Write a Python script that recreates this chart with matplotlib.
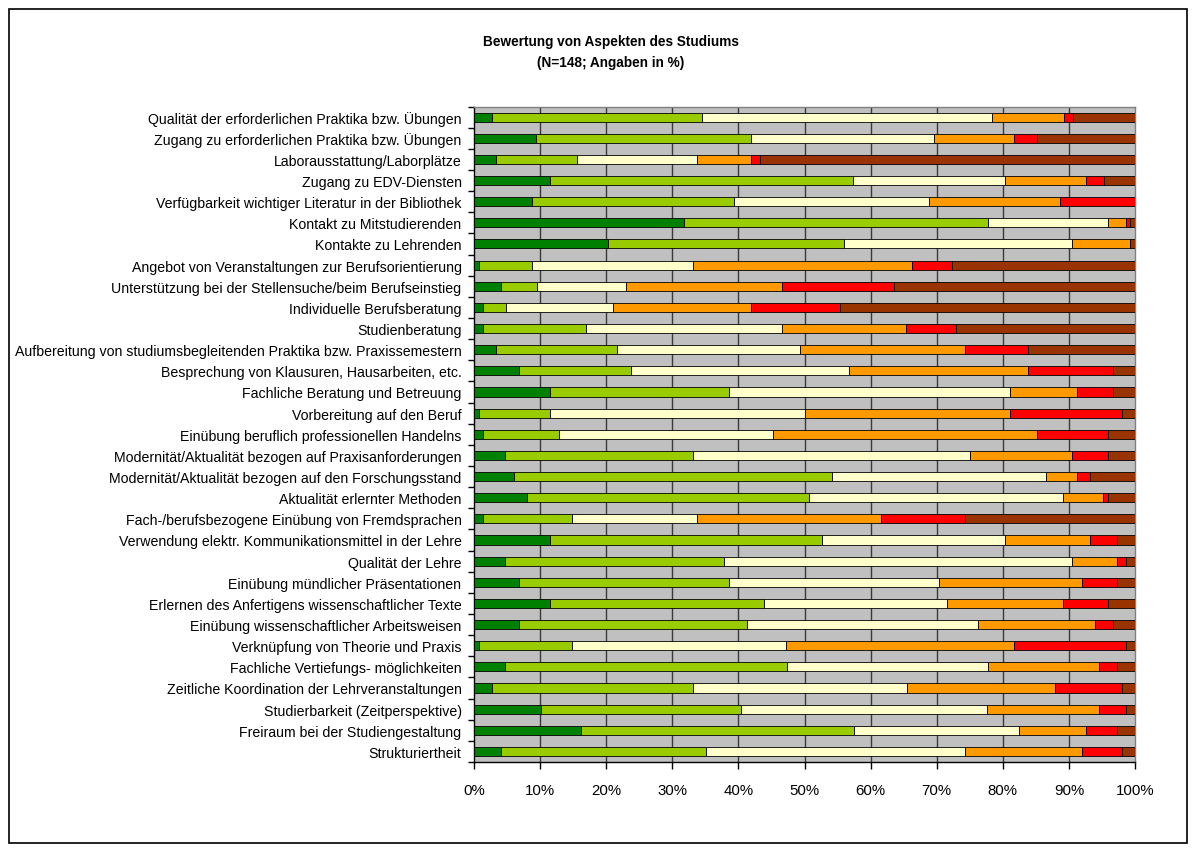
import matplotlib
matplotlib.use("Agg")
import matplotlib.pyplot as plt
import numpy as np
from matplotlib.patches import Rectangle

plt.rcParams['font.family'] = ['Liberation Sans', 'DejaVu Sans']

categories = [
    "Qualität der erforderlichen Praktika bzw. Übungen",
    "Zugang zu erforderlichen Praktika bzw. Übungen",
    "Laborausstattung/Laborplätze",
    "Zugang zu EDV-Diensten",
    "Verfügbarkeit wichtiger Literatur in der Bibliothek",
    "Kontakt zu Mitstudierenden",
    "Kontakte zu Lehrenden",
    "Angebot von Veranstaltungen zur Berufsorientierung",
    "Unterstützung bei der Stellensuche/beim Berufseinstieg",
    "Individuelle Berufsberatung",
    "Studienberatung",
    "Aufbereitung von studiumsbegleitenden Praktika bzw. Praxissemestern",
    "Besprechung von Klausuren, Hausarbeiten, etc.",
    "Fachliche Beratung und Betreuung",
    "Vorbereitung auf den Beruf",
    "Einübung beruflich professionellen Handelns",
    "Modernität/Aktualität bezogen auf Praxisanforderungen",
    "Modernität/Aktualität bezogen auf den Forschungsstand",
    "Aktualität erlernter Methoden",
    "Fach-/berufsbezogene Einübung von Fremdsprachen",
    "Verwendung elektr. Kommunikationsmittel in der Lehre",
    "Qualität der Lehre",
    "Einübung mündlicher Präsentationen",
    "Erlernen des Anfertigens wissenschaftlicher Texte",
    "Einübung wissenschaftlicher Arbeitsweisen",
    "Verknüpfung von Theorie und Praxis",
    "Fachliche Vertiefungs- möglichkeiten",
    "Zeitliche Koordination der Lehrveranstaltungen",
    "Studierbarkeit (Zeitperspektive)",
    "Freiraum bei der Studiengestaltung",
    "Strukturiertheit",
]

s1 = [2.7, 9.4, 3.4, 11.5, 8.8, 31.8, 20.3, 0.7, 4.1, 1.4, 1.4, 3.4, 6.8, 11.5, 0.7, 1.4,
      4.7, 6.1, 8.1, 1.4, 11.5, 4.7, 6.8, 11.5, 6.8, 0.7, 4.7, 2.7, 10.1, 16.2, 4.1]
s2 = [31.8, 32.5, 12.2, 45.9, 30.5, 45.9, 35.8, 8.1, 5.4, 3.4, 15.5, 18.2, 16.9, 27.0, 10.8, 11.5,
      28.4, 48.0, 42.6, 13.5, 41.2, 33.1, 31.8, 32.4, 34.5, 14.2, 42.6, 30.4, 30.4, 41.2, 31.1]
s3 = [43.8, 27.7, 18.2, 23.0, 29.6, 18.2, 34.5, 24.3, 13.5, 16.2, 29.7, 27.7, 33.0, 42.5, 38.5, 32.4,
      41.9, 32.4, 38.5, 18.9, 27.7, 52.7, 31.8, 27.7, 35.1, 32.4, 30.4, 32.4, 37.2, 25.0, 39.2]
s4 = [10.9, 12.1, 8.1, 12.2, 19.7, 2.7, 8.8, 33.1, 23.6, 20.9, 18.8, 24.9, 27.0, 10.1, 31.1, 39.9,
      15.5, 4.7, 6.1, 27.7, 12.8, 6.8, 21.6, 17.6, 17.6, 34.5, 16.9, 22.3, 16.9, 10.1, 17.6]
s5 = [1.4, 3.4, 1.4, 2.7, 11.4, 0.7, 0.0, 6.1, 16.9, 13.5, 7.5, 9.5, 12.8, 5.4, 16.9, 10.8,
      5.4, 2.0, 0.7, 12.8, 4.1, 1.4, 5.4, 6.8, 2.7, 16.9, 2.7, 10.1, 4.1, 4.7, 6.1]
s6 = [9.4, 14.9, 56.7, 4.7, 0.0, 0.7, 0.7, 27.7, 36.5, 44.6, 27.1, 16.2, 3.4, 3.4, 2.0, 4.1,
      4.1, 6.8, 4.1, 25.7, 2.7, 1.4, 2.7, 4.1, 3.4, 1.4, 2.7, 2.0, 1.4, 2.7, 2.0]

series = [s1, s2, s3, s4, s5, s6]
colors = ["#008000", "#99CC00", "#FFFFCC", "#FF9900", "#FF0000", "#993300"]
xticks = [0, 10, 20, 30, 40, 50, 60, 70, 80, 90, 100]
xticklabels = ["0%", "10%", "20%", "30%", "40%", "50%", "60%", "70%", "80%", "90%", "100%"]
title = "Bewertung von Aspekten des Studiums\n(N=148; Angaben in %)"

W, H = 1197, 854
fig = plt.figure(figsize=(W / 100, H / 100), dpi=100)
fig.patch.set_facecolor("white")

ax = fig.add_axes([474 / W, 1 - 763 / H, (1135 - 474) / W, (763 - 107.5) / H])
ax.set_facecolor("#C0C0C0")

data = np.array(series, dtype=float)
data = data / data.sum(axis=0) * 100
y = np.arange(len(categories))
left = np.zeros(len(categories))
for vals, c in zip(data, colors):
    ax.barh(y, vals, left=left, height=0.43, color=c, edgecolor="black", linewidth=0.6, zorder=3)
    left += vals

ax.set_xlim(0, 100)
ax.set_ylim(len(categories) - 0.5, -0.5)
ax.set_axisbelow(True)
for xv in xticks[1:-1]:
    ax.axvline(xv, color="#3a3a3a", linewidth=1.0, zorder=1)

ax.set_xticks(xticks)
ax.set_xticklabels(xticklabels, fontsize=10.8)
ax.tick_params(axis="x", direction="out", length=5, width=1, pad=10)
ax.set_yticks(y)
ax.set_yticklabels(categories, fontsize=10.2)
ax.tick_params(axis="y", which="major", length=0, pad=9)
ax.set_yticks(np.arange(-0.5, len(categories) + 0.5, 1), minor=True)
ax.tick_params(axis="y", which="minor", direction="out", length=4, width=1)

for s in ["left", "bottom"]:
    ax.spines[s].set_color("black")
    ax.spines[s].set_linewidth(1)
for s in ["top", "right"]:
    ax.spines[s].set_color("#808080")
    ax.spines[s].set_linewidth(1)

fig.text(611 / W, 1 - 52.5 / H, title, ha="center", va="center", fontsize=9.8,
         fontweight="bold", linespacing=1.7)

fig.patches.append(Rectangle((8.5 / W, 1 - 844 / H), (1187 - 8.5) / W, (844 - 10) / H,
                             transform=fig.transFigure, fill=False, edgecolor="black",
                             linewidth=1.2))

fig.savefig("out.png", dpi=100)
